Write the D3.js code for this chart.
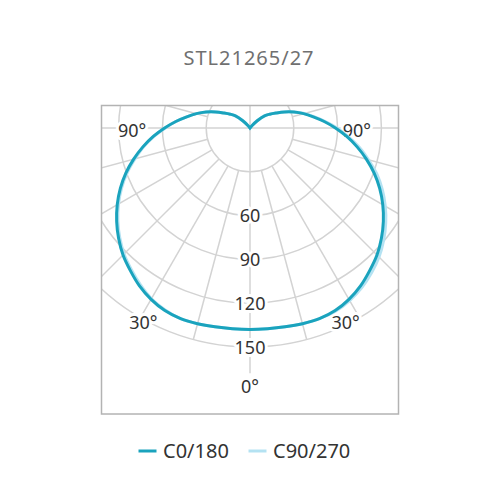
<html lang="en">
<head>
    <meta charset="UTF-8">
    <title>STL21265/27</title>
    <script src="https://d3js.org/d3.v7.min.js"></script>
</head>
<style>
    body {
        margin: 0;
        background-color: #fff;
    }
    .grid {
        stroke: #d3d3d3;
        stroke-width: 1.5px;
        fill: none;
    }
    .lbl {
        font-family: "Noto Sans", sans-serif;
        font-size: 18px;
        fill: #333;
        text-anchor: middle;
        paint-order: stroke;
        stroke: #fff;
        stroke-width: 6px;
        stroke-linejoin: round;
    }
</style>
<body>
    <svg id="chart" width="500" height="500"></svg>

    <script>
        // gamma angles (deg from nadir) and intensities
        const gammaAngles = [0, 5, 10, 15, 20, 25, 30, 35, 40, 45, 50, 55, 60, 65, 70, 75, 80, 85, 90,
            95, 100, 105, 110, 115, 120, 125, 130, 135, 140, 145, 150, 155, 160, 165, 170, 175, 180];
        const c0180 = [138, 138, 138.3, 138.8, 139, 138, 135.5, 132, 127.5, 123, 117.5, 111.5, 105, 98, 90.5, 82.5, 74.5, 66.5, 58.5,
            51, 44, 38, 32, 26, 20.5, 16.5, 13, 7, 2, 0, 0, 0, 0, 0, 0, 0, 0];
        const c90 = [138, 138, 138.3, 138.8, 139, 138.5, 136.5, 133.5, 129.5, 125, 119.5, 113.5, 107, 100, 92.5, 84, 76, 67.5, 59.5,
            51.5, 44.5, 38.5, 32, 26, 20.5, 16.5, 13, 7, 2, 0, 0, 0, 0, 0, 0, 0, 0];
        const c270 = [138, 138, 138.3, 138.8, 139, 137.5, 135, 131, 126.5, 122, 116.5, 110.5, 104, 97, 89.5, 81.5, 74, 66, 58,
            51, 44, 38, 32, 26, 20.5, 16.5, 13, 7, 2, 0, 0, 0, 0, 0, 0, 0, 0];

        const radialTicks = [30, 60, 90, 120, 150];
        const tickLabels = ["60", "90", "120", "150"];
        const angleLabels = ["90°", "30°"];
        const nadirLabel = "0°";
        const legendNames = ["C0/180", "C90/270"];
        const legendColors = ["#1aa3bd", "#b4e2f2"];
        const title = "STL21265/27";

        const svg = d3.select("svg#chart");
        const cx = 250, cy = 128;
        const box = { x: 101.5, y: 105.5, w: 297, h: 308.5 };
        const r = d3.scaleLinear().domain([0, 150]).range([0, 219]);
        const rad = d => d * Math.PI / 180;

        svg.append("text")
            .attr("x", 249).attr("y", 65)
            .attr("text-anchor", "middle")
            .style("font-family", "'Noto Sans', sans-serif")
            .style("font-size", "20px")
            .style("letter-spacing", "1px")
            .style("fill", "#707070")
            .text(title);

        svg.append("clipPath").attr("id", "boxclip")
            .append("rect")
            .attr("x", box.x).attr("y", box.y).attr("width", box.w).attr("height", box.h);

        // clip on the outer group, so the rect stays in page coordinates
        const grid = svg.append("g").attr("clip-path", "url(#boxclip)")
            .append("g")
            .attr("transform", "translate(" + cx + "," + cy + ")");

        grid.selectAll("circle.grid")
            .data(radialTicks)
            .join("circle")
            .attr("class", "grid")
            .attr("r", d => r(d));

        // radial lines every 15deg, axes go through the centre
        const spokes = d3.range(0, 360, 15);
        grid.selectAll("line.grid")
            .data(spokes)
            .join("line")
            .attr("class", "grid")
            .attr("x1", d => d % 90 === 0 ? 0 : r(30) * Math.sin(rad(d)))
            .attr("y1", d => d % 90 === 0 ? 0 : r(30) * Math.cos(rad(d)))
            .attr("x2", d => (d === 0 ? r(168) : r(150)) * Math.sin(rad(d)))
            .attr("y2", d => (d === 0 ? r(168) : r(150)) * Math.cos(rad(d)));

        svg.append("rect")
            .attr("x", box.x).attr("y", box.y).attr("width", box.w).attr("height", box.h)
            .style("fill", "none")
            .style("stroke", "#b3b3b3")
            .style("stroke-width", 1.5);

        const labels = svg.append("g");
        labels.selectAll("text.val")
            .data(tickLabels)
            .join("text")
            .attr("class", "lbl val")
            .attr("x", cx)
            .attr("y", d => cy + r(+d) + 6.5)
            .text(d => d);

        labels.append("text")
            .attr("class", "lbl")
            .attr("x", cx).attr("y", cy + r(177) + 6.5)
            .text(nadirLabel);

        // angle labels: 90deg sits on the horizontal, 30deg near the outer ring
        const angPos = [
            { t: angleLabels[0], side: -1, a: 90, rr: r(77) },
            { t: angleLabels[0], side: 1, a: 90, rr: r(77) },
            { t: angleLabels[1], side: -1, a: 27.5, rr: r(150) },
            { t: angleLabels[1], side: 1, a: 27.5, rr: r(150) }
        ];
        labels.selectAll("text.ang")
            .data(angPos)
            .join("text")
            .attr("class", "lbl ang")
            .attr("x", d => cx - 5.5 + d.side * d.rr * Math.sin(rad(d.a)))
            .attr("y", d => cy + d.rr * Math.cos(rad(d.a)) + (d.a === 90 ? 9 : 6.5))
            .text(d => d.t);

        // build a closed curve: left half uses one plane, right half the other
        function curvePoints(left, right) {
            var pts = [];
            for (var i = gammaAngles.length - 1; i >= 0; i--) {
                if (left[i] === 0 && (i === 0 || left[i - 1] === 0)) continue;
                pts.push({ a: Math.PI + rad(gammaAngles[i]), v: left[i] });
            }
            for (var j = 1; j < gammaAngles.length; j++) {
                if (right[j] === 0) break;
                pts.push({ a: Math.PI - rad(gammaAngles[j]), v: right[j] });
            }
            return pts;
        }

        const radial = d3.lineRadial()
            .angle(d => d.a)
            .radius(d => r(d.v))
            .curve(d3.curveCatmullRom.alpha(0.5));

        const curves = svg.append("g").attr("transform", "translate(" + cx + "," + cy + ")");
        curves.selectAll("path")
            .data([curvePoints(c270, c90), curvePoints(c0180, c0180)])
            .join("path")
            .attr("d", d => radial(d) + "Z")
            .style("fill", "none")
            .style("stroke", (d, i) => i === 0 ? legendColors[1] : legendColors[0])
            .style("stroke-width", 3)
            .style("stroke-linejoin", "miter");

        const legend = svg.append("g");
        const legX = [138.5, 248.5];
        legend.selectAll("line")
            .data(legendNames)
            .join("line")
            .attr("x1", (d, i) => legX[i]).attr("x2", (d, i) => legX[i] + 18)
            .attr("y1", 451).attr("y2", 451)
            .style("stroke", (d, i) => legendColors[i])
            .style("stroke-width", 3);
        legend.selectAll("text")
            .data(legendNames)
            .join("text")
            .attr("x", (d, i) => legX[i] + 24.5)
            .attr("y", 458)
            .style("font-family", "'Noto Sans', sans-serif")
            .style("font-size", "20px")
            .style("fill", "#333")
            .text(d => d);
    </script>
</body>
</html>
